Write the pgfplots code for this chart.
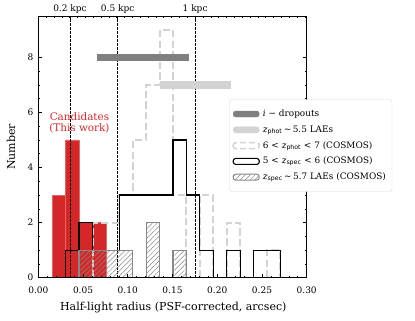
\documentclass[border=0pt]{standalone}
\usepackage{pgfplots}
\pgfplotsset{compat=1.18}
\usepackage{fontspec}
\setmainfont{DejaVu Serif}
\newfontfamily\sans{DejaVu Sans}
\usetikzlibrary{patterns.meta}

\definecolor{cred}{HTML}{D62728}
\definecolor{dgray}{HTML}{7F7F7F}
\definecolor{lgray}{HTML}{D3D3D3}
\definecolor{hgray}{HTML}{888888}

\newcommand{\zph}{\textit{z}\textsubscript{\sans phot}}
\newcommand{\zsp}{\textit{z}\textsubscript{\sans spec}}

\tikzset{hatch/.style={pattern={Lines[angle=45,distance=3.5pt,line width=0.5pt]},
    pattern color=hgray, draw=hgray, line width=1.2pt}}

\begin{document}
\begin{tikzpicture}
\pgfplotsset{
  base/.style={
    scale only axis, width=268.4pt, height=261.7pt,
    xmin=0, xmax=0.3, ymin=0, ymax=9.5,
    tick align=inside, major tick length=4pt, minor tick length=2pt,
    every tick/.style={black, line width=0.6pt},
    axis line style={line width=0.8pt},
    /pgf/number format/assume math mode=true,
    tick label style={font=\fontsize{9}{10}\selectfont},
  },
}

\begin{axis}[base,
  axis on top,
  xtick={0,0.05,...,0.3}, minor x tick num=4, xtick pos=lower,
  xticklabel style={/pgf/number format/fixed, /pgf/number format/fixed zerofill,
    /pgf/number format/precision=2, anchor=base, yshift=-16.3pt},
  ytick={0,2,4,6,8}, minor y tick num=3, ytick pos=both, yticklabel pos=left,
  yticklabel style={anchor=east, xshift=-1.5pt},
  xlabel={Half-light radius (PSF-corrected, arcsec)},
  ylabel={Number},
  every axis x label/.style={at={(rel axis cs:0.503,0)}, anchor=center, yshift=-30.3pt,
    font=\fontsize{11}{13}\selectfont},
  every axis y label/.style={at={(rel axis cs:0,0.5)}, xshift=-27.3pt, rotate=90, anchor=center,
    font=\fontsize{11}{13}\selectfont},
  legend style={at={(0.7116,0.6817)}, anchor=north west, draw=black!15, fill=white,
    rounded corners=2.5pt, font=\fontsize{8.9}{11}\selectfont,
    inner xsep=3pt, inner ysep=7pt, row sep=0.8pt,
    nodes={inner sep=3pt, text height=7pt, text depth=2pt}},
  legend cell align=left,
]

% candidates (this work)
\addplot[ybar interval, fill=cred, draw=cred!70!white, line width=0.5pt, forget plot]
  coordinates {(0.0155,3) (0.0305,5) (0.0455,2) (0.0605,2) (0.0755,0)};

% 0.2, 0.5, 1 kpc
\addplot[black, line width=0.6pt, dash pattern=on 2.5pt off 1.5pt, forget plot] coordinates {(0.0354,0) (0.0354,9.5)};
\addplot[black, line width=0.6pt, dash pattern=on 2.5pt off 1.5pt, forget plot] coordinates {(0.0887,0) (0.0887,9.5)};
\addplot[black, line width=0.6pt, dash pattern=on 2.5pt off 1.5pt, forget plot] coordinates {(0.1753,0) (0.1753,9.5)};

% 6 < zphot < 7 (COSMOS)
\addplot[const plot, lgray, line width=2pt, dash pattern=on 7.4pt off 3.2pt, forget plot]
  coordinates {(0.0606,0) (0.0606,2) (0.0906,3) (0.1056,5) (0.1206,7) (0.1356,9) (0.1506,3) (0.1656,0)};
\addplot[const plot, lgray, line width=2pt, dash pattern=on 7.4pt off 3.2pt, forget plot]
  coordinates {(0.1806,0) (0.1806,3) (0.1956,0)};
\addplot[const plot, lgray, line width=2pt, dash pattern=on 7.4pt off 3.2pt, forget plot]
  coordinates {(0.2106,0) (0.2106,2) (0.2256,0)};
\addplot[const plot, lgray, line width=2pt, dash pattern=on 7.4pt off 3.2pt, forget plot]
  coordinates {(0.2556,0) (0.2556,1) (0.2706,0)};

% 5 < zspec < 6 (COSMOS)
\addplot[const plot, black, line width=1.2pt, forget plot]
  coordinates {(0.0306,0) (0.0306,1) (0.0456,2) (0.0606,1) (0.0906,3) (0.1506,5) (0.1656,3) (0.1806,1) (0.1956,0)};
\addplot[const plot, black, line width=1.2pt, forget plot]
  coordinates {(0.2106,0) (0.2106,1) (0.2256,0)};
\addplot[const plot, black, line width=1.2pt, forget plot]
  coordinates {(0.2406,0) (0.2406,1) (0.2706,0)};

% zspec ~ 5.7 LAEs (COSMOS)
\addplot[hatch, forget plot] coordinates {(0.0456,0) (0.0456,1) (0.1056,1) (0.1056,0)} -- cycle;
\addplot[hatch, forget plot] coordinates {(0.1206,0) (0.1206,2) (0.1356,2) (0.1356,0)} -- cycle;
\addplot[hatch, forget plot] coordinates {(0.1506,0) (0.1506,1) (0.1656,1) (0.1656,0)} -- cycle;

% i-dropouts and zphot ~ 5.5 LAEs ranges
\addplot[dgray, line width=7.5pt, forget plot] coordinates {(0.066,8) (0.1684,8)};
\addplot[lgray, line width=7.5pt, forget plot] coordinates {(0.136,7) (0.215,7)};

\node[text=cred, align=center, font=\fontsize{10.4}{11.5}\selectfont] at (axis cs:0.046,5.63)
  {Candidates\\(This work)};

\addlegendimage{legend image code/.code={\fill[dgray] (0pt,-3pt) rectangle (26pt,3pt);}}
\addlegendentry{\textit{i} − dropouts}
\addlegendimage{legend image code/.code={\fill[lgray] (0pt,-3pt) rectangle (26pt,3pt);}}
\addlegendentry{\zph\,∼\,5.5 LAEs}
\addlegendimage{legend image code/.code={\draw[lgray, line width=1.5pt, dash pattern=on 6pt off 3pt] (0pt,-3pt) rectangle (26pt,3pt);}}
\addlegendentry{6 < \zph{} < 7 (COSMOS)}
\addlegendimage{legend image code/.code={\draw[black, line width=1.1pt] (0pt,-3pt) rectangle (26pt,3pt);}}
\addlegendentry{5 < \zsp{} < 6 (COSMOS)}
\addlegendimage{legend image code/.code={\draw[hatch, line width=1pt] (0pt,-3pt) rectangle (26pt,3pt);}}
\addlegendentry{\zsp\,∼\,5.7 LAEs (COSMOS)}
\end{axis}

% top axis in kpc
\begin{axis}[base,
  axis x line*=top, hide y axis,
  xtick={0.0354,0.0887,0.1753},
  xticklabels={0.2 kpc, 0.5 kpc, 1 kpc},
  minor xtick={0,0.008765,...,0.3},
  xticklabel style={anchor=base, yshift=4pt},
]
\end{axis}

\pgfresetboundingbox
\path (current axis.south west) ++(-38.3pt,-43.3pt) rectangle ++(415pt,321pt);
\end{tikzpicture}
\end{document}
